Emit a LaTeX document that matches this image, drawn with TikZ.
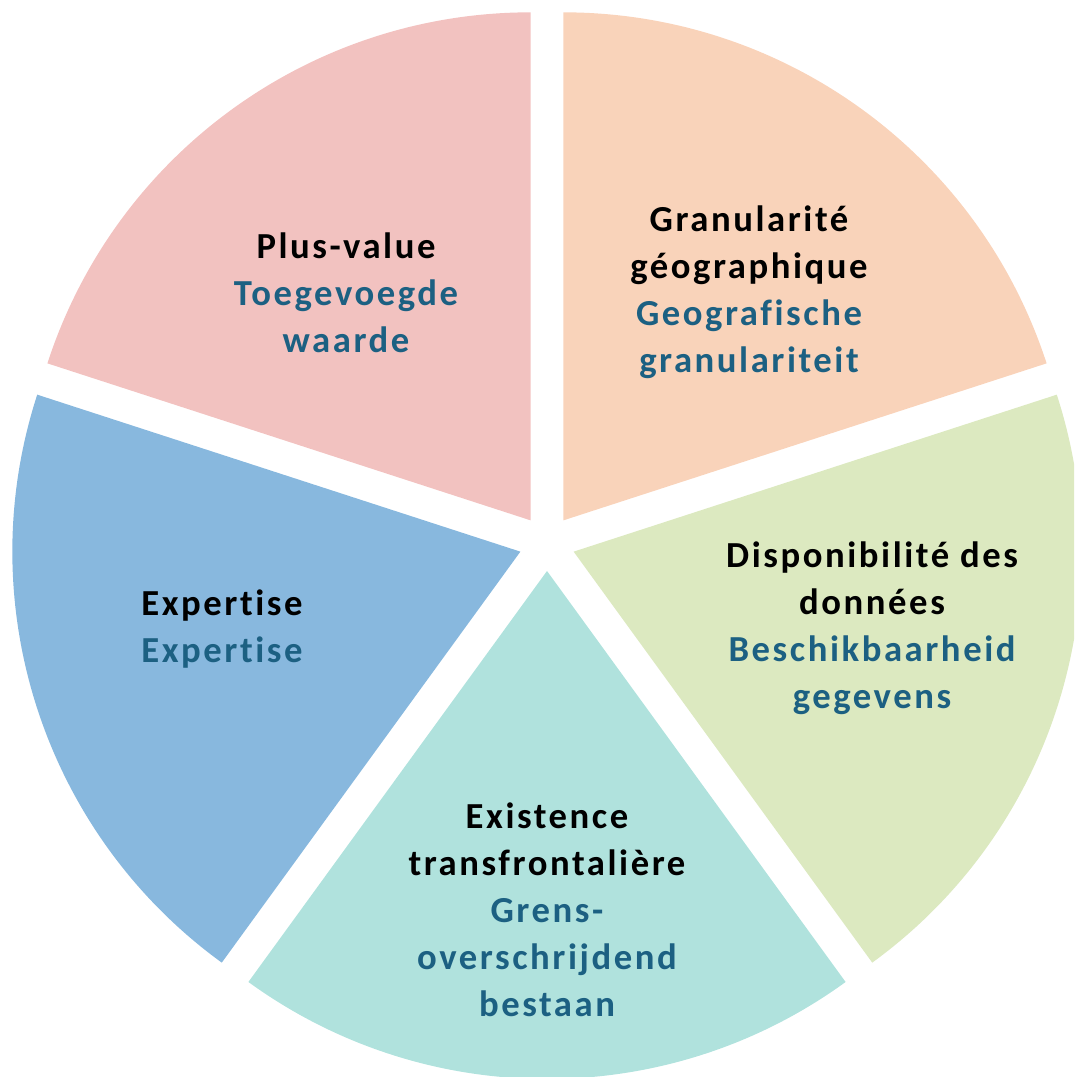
\documentclass[tikz,border=0pt]{standalone}
\usepackage{fontspec}
\setmainfont{Carlito}[LetterSpace=7,Ligatures=NoCommon]
\usetikzlibrary{calc}
\definecolor{cpink}{RGB}{242,194,192}
\definecolor{corange}{RGB}{249,211,186}
\definecolor{cgreen}{RGB}{220,233,192}
\definecolor{cteal}{RGB}{176,226,221}
\definecolor{cblue}{RGB}{136,184,222}
\definecolor{tblue}{RGB}{28,96,130}
\tikzset{
  lbl/.style={align=center, font=\fontsize{27.5}{35.25}\selectfont\bfseries, inner sep=0pt},
}
\newcommand{\nl}{\textcolor{black}}
\newcommand{\dl}{\textcolor{tblue}}
\begin{document}
\begin{tikzpicture}[x=0.75pt,y=0.75pt]
\useasboundingbox (0,0) rectangle (1074,1077);
\clip (0,0) rectangle (1074,1077);
\def\R{508}
\def\D{28}
% centre (547,534)
\foreach \a/\col in {18/corange, 90/cpink, 162/cblue, 234/cteal, 306/cgreen}{
  \pgfmathsetmacro{\b}{\a+36}
  \pgfmathsetmacro{\e}{\a+72}
  \fill[\col] ($(547,534)+(\b:\D)$) -- ++(\a:\R) arc[start angle=\a, end angle=\e, radius=\R] -- cycle;
}
\node[lbl] (plus) at (346,784) {\nl{Plus-value}\\\dl{Toegevoegde}\\\dl{waarde}};
\node[lbl] (gran) at (749,785) {\nl{Granularité}\\\nl{géographique}\\\dl{Geografische}\\\dl{granulariteit}};
\node[lbl] (disp) at (872,449) {\nl{Disponibilité des}\\\nl{données}\\\dl{Beschikbaarheid}\\\dl{gegevens}};
\node[lbl] (expe) at (222,448) {\nl{Expertise}\\\dl{Expertise}};
\node[lbl] (exis) at (547,167) {\nl{Existence}\\\nl{transfrontalière}\\\dl{Grens-}\\\dl{overschrijdend}\\\dl{bestaan}};
\end{tikzpicture}
\end{document}
